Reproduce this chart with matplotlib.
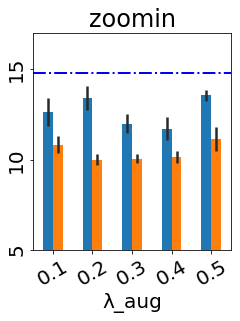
import numpy as np
import matplotlib.pyplot as plt

lambdas = ['0.1', '0.2', '0.3', '0.4', '0.5']
blue_mean = [12.63, 13.44, 12.0, 11.72, 13.56]
blue_err = [0.77, 0.67, 0.52, 0.63, 0.30]
orange_mean = [10.83, 10.0, 10.06, 10.17, 11.17]
orange_err = [0.46, 0.30, 0.24, 0.33, 0.67]
baseline = 14.82

# reference looks like it was saved at 72 dpi
fig = plt.figure(figsize=(240 / 72, 321 / 72), dpi=72)
ax = fig.add_axes([0.1375, 0.221, 0.825, 0.675])

x = np.arange(len(lambdas))
w = 0.25
ax.bar(x - w / 2, blue_mean, w, yerr=blue_err, color='tab:blue',
       error_kw=dict(ecolor='#2a2a2a', elinewidth=2.5))
ax.bar(x + w / 2, orange_mean, w, yerr=orange_err, color='tab:orange',
       error_kw=dict(ecolor='#2a2a2a', elinewidth=2.5))
ax.axhline(baseline, color='blue', linestyle='-.', linewidth=2)

ax.set_xlim(-0.5, 4.5)
ax.set_ylim(5, 17)
ax.set_yticks([5, 10, 15])
ax.set_xticks(x)
ax.set_xticklabels(lambdas, rotation=30, fontsize=20)
ax.tick_params(axis='y', labelsize=20, labelrotation=90)
for lab in ax.get_yticklabels():
    lab.set_va('center')
ax.set_xlabel('λ_aug', fontsize=20)
ax.set_title('zoomin', fontsize=24)

fig.savefig('out.png', dpi=72)
